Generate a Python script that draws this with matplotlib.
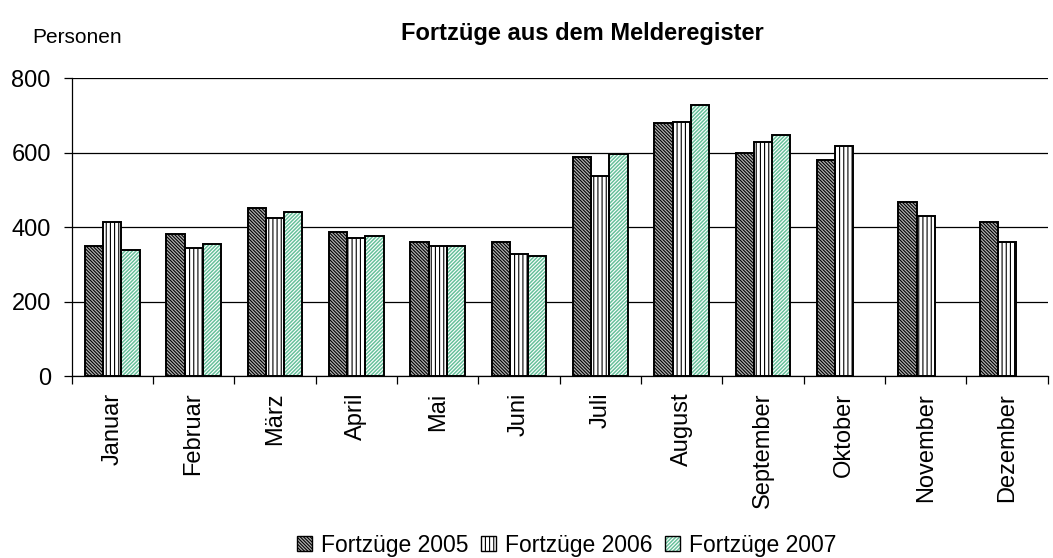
import numpy as np
import matplotlib
matplotlib.use("Agg")
import matplotlib.pyplot as plt
from matplotlib.patches import Patch
from matplotlib.legend_handler import HandlerTuple

plt.rcParams['font.family'] = ['Liberation Sans', 'DejaVu Sans']
plt.rcParams['hatch.linewidth'] = 0.8

months = ["Januar", "Februar", "März", "April", "Mai", "Juni", "Juli",
          "August", "September", "Oktober", "November", "Dezember"]
fz_2005 = [349, 382, 452, 387, 360, 360, 587, 679, 598, 581, 467, 413]
fz_2006 = [413, 343, 424, 370, 348, 328, 537, 683, 629, 618, 431, 360]
fz_2007 = [338, 355, 440, 377, 348, 322, 597, 727, 646, np.nan, np.nan, np.nan]

series = [
    ("Fortzüge 2005", fz_2005, "#b0b0b0", "black", "\\" * 10),
    ("Fortzüge 2006", fz_2006, "white", "black", "||||"),
    ("Fortzüge 2007", fz_2007, "#66c09a", "white", "/" * 9),
]

fig = plt.figure(figsize=(10.53, 5.58), dpi=100)
ax = fig.add_axes([0.068, 0.326, 0.927, 0.534])

x = np.arange(len(months))
w = 0.224
handles = []
for i, (name, vals, face, hcol, hatch) in enumerate(series):
    pos = x + (i - 1) * w
    ax.bar(pos, vals, w, color=face, edgecolor=hcol, hatch=hatch, linewidth=0, zorder=3)
    ax.bar(pos, vals, w, fill=False, edgecolor="black", linewidth=1.4, zorder=4)
    handles.append((Patch(facecolor=face, edgecolor=hcol, hatch=hatch, linewidth=0),
                    Patch(fill=False, edgecolor="black", linewidth=1.0)))

ax.set_xlim(-0.5, 11.5)
ax.set_ylim(0, 800)
ax.set_yticks([0, 200, 400, 600, 800])
ax.yaxis.grid(True, color="black", linewidth=0.9, zorder=0)
ax.set_axisbelow(True)
for s in ["top", "right"]:
    ax.spines[s].set_visible(False)
for s in ["left", "bottom"]:
    ax.spines[s].set_linewidth(0.9)

ax.set_xticks(np.arange(-0.5, 11.6, 1.0))
ax.set_xticklabels([])
ax.tick_params(axis="x", which="major", length=6, width=0.9, direction="out")
ax.set_xticks(x, minor=True)
ax.set_xticklabels(months, minor=True, rotation=90, fontsize=17)
ax.tick_params(axis="x", which="minor", length=0, pad=12)
ax.tick_params(axis="y", length=6, width=0.9, labelsize=17, pad=9)

fig.text(0.553, 0.94, "Fortzüge aus dem Melderegister", ha="center", va="center",
         fontsize=17, fontweight="bold")
fig.text(0.031, 0.932, "Personen", ha="left", va="center", fontsize=15)

fig.legend(handles, [s[0] for s in series], loc="center", bbox_to_anchor=(0.538, 0.023),
           ncol=3, frameon=False, fontsize=16.5, handlelength=0.65, handleheight=0.65,
           handletextpad=0.4, columnspacing=0.55,
           handler_map={tuple: HandlerTuple(ndivide=1, pad=0)})

fig.savefig("out.png", dpi=100)
